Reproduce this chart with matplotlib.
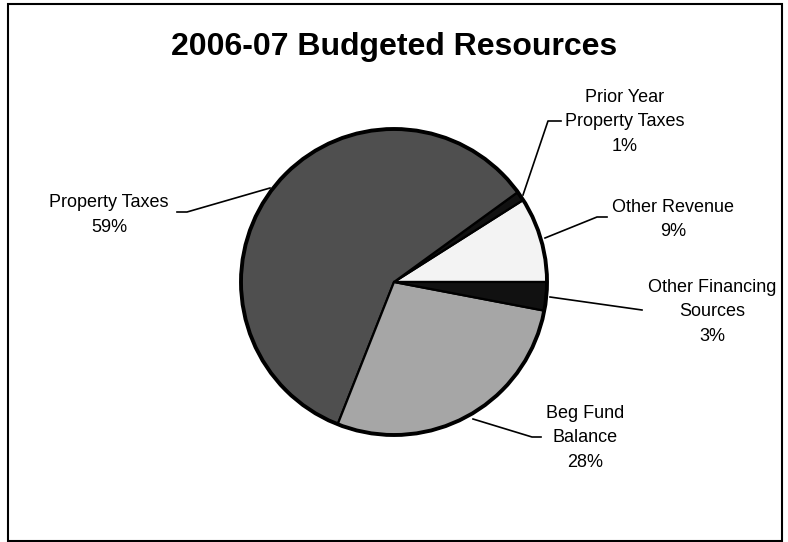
import matplotlib
matplotlib.use('Agg')
import matplotlib.pyplot as plt
from matplotlib.patches import Rectangle, Circle

# data (counterclockwise from 3 o'clock)
names = ['Other Revenue', 'Prior Year\nProperty Taxes', 'Property Taxes',
         'Beg Fund\nBalance', 'Other Financing\nSources']
shares = [9, 1, 59, 28, 3]
colors = ['#f3f3f3', '#111111', '#4f4f4f', '#a6a6a6', '#111111']

# label placement: (x centre, first baseline) and leader line points, in pixels
label_pos = [(673, 212), (625, 102), (109, 207), (585, 418), (712, 292)]
leaders = [
    [(545, 238), (597, 217), (607, 217)],
    [(523, 195), (548, 121), (561, 121)],
    [(270, 188), (187, 212), (177, 212)],
    [(473, 419), (532, 437), (541, 437)],
    [(550, 297), (642, 310)],
]

plt.rcParams['font.family'] = ['Liberation Sans', 'DejaVu Sans']

fig = plt.figure(figsize=(7.88, 5.42), dpi=100)
ax = fig.add_axes([0, 0, 1, 1])

# outer frame
ax.add_patch(Rectangle((8, 4), 774, 537, fill=False, edgecolor='black', lw=1.5))

cx, cy, r = 394, 282, 153
ax.pie(shares, colors=colors, startangle=0, counterclock=False,
       center=(cx, cy), radius=r, frame=True,
       wedgeprops=dict(edgecolor='black', linewidth=1.6))
ax.add_patch(Circle((cx, cy), r, fill=False, edgecolor='black', lw=2.8))
ax.set_xlim(0, 788)
ax.set_ylim(542, 0)
ax.axis('off')

for name, v, (lx, ly), pts in zip(names, shares, label_pos, leaders):
    lines = name.split('\n') + [f'{v}%']
    for i, s in enumerate(lines):
        ax.text(lx, ly + i * 24.5, s, ha='center', va='baseline', fontsize=13)
    xs = [p[0] for p in pts]
    ys = [p[1] for p in pts]
    ax.plot(xs, ys, color='black', lw=1.2)

ax.text(394, 55, '2006-07 Budgeted Resources', ha='center', va='baseline',
        fontsize=23, fontweight='bold')

fig.savefig('out.png', dpi=100)
